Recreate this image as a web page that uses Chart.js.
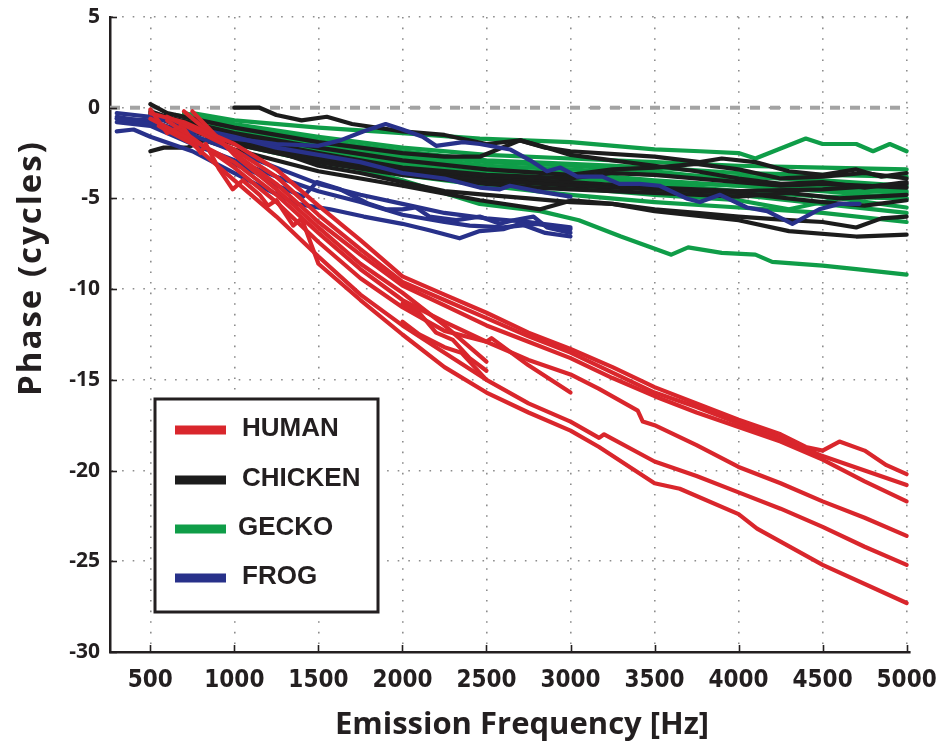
<!DOCTYPE html>
<html>
<head>
<meta charset="utf-8">
<script src="https://cdn.jsdelivr.net/npm/chart.js@4.4.1/dist/chart.umd.min.js"></script>
<style>
  html, body { margin: 0; padding: 0; background: #ffffff; }
  #wrap { width: 942px; height: 749px; position: relative; }
</style>
</head>
<body>
<div id="wrap"><canvas id="c" width="942" height="749"></canvas></div>
<script>
// ---------------- DATA ----------------
const X_TICKS = [500, 1000, 1500, 2000, 2500, 3000, 3500, 4000, 4500, 5000];
const Y_TICKS = [5, 0, -5, -10, -15, -20, -25, -30];
const X_RANGE = [260, 5020];
const Y_RANGE = [-30, 5];
const X_TITLE = 'Emission Frequency [Hz]';
const Y_TITLE = 'Phase (cycles)';
const SPECIES = ['HUMAN', 'CHICKEN', 'GECKO', 'FROG'];
const ZERO_PHASE = 0;

// HUMAN curves: [frequency Hz, phase cycles]
const human1 = [[500,-0.3],[700,-0.8],[1000,-2.0],[1250,-3.4],[1500,-5.4],[1750,-7.3],[2000,-9.3],[2250,-10.3],[2500,-11.3],[2750,-12.4],[3000,-13.3],[3250,-14.3],[3500,-15.4],[3750,-16.3],[4000,-17.2],[4250,-18.0],[4400,-18.7],[4500,-18.9],[4600,-18.4],[4750,-18.9],[4880,-19.7],[5000,-20.2]];
const human2 = [[600,-0.5],[1000,-2.3],[1250,-3.8],[1500,-5.9],[1750,-7.8],[2000,-9.6],[2250,-10.6],[2500,-11.6],[2750,-12.6],[3000,-13.5],[3250,-14.6],[3500,-15.7],[3750,-16.5],[4000,-17.4],[4250,-18.2],[4500,-19.2],[4750,-20.0],[5000,-20.8]];
const human3 = [[700,-0.2],[1000,-2.5],[1250,-4.2],[1500,-6.3],[1750,-8.1],[2000,-9.8],[2250,-10.9],[2500,-12.0],[2750,-12.9],[3000,-13.8],[3250,-14.9],[3500,-15.9],[3750,-16.8],[4000,-17.6],[4250,-18.4],[4500,-19.4],[4750,-20.6],[5000,-21.7]];
const human4 = [[500,-0.6],[1000,-3.0],[1250,-4.8],[1500,-6.9],[1750,-8.9],[2000,-10.6],[2250,-11.8],[2500,-12.9],[2750,-13.9],[3000,-14.7],[3170,-15.5],[3400,-16.7],[3430,-17.3],[3500,-17.5],[3750,-18.6],[4000,-19.8],[4250,-20.7],[4500,-21.7],[4750,-22.6],[5000,-23.6]];
const human5 = [[550,-1.0],[750,-2.0],[1000,-4.0],[1250,-6.0],[1500,-8.2],[1750,-10.3],[2000,-12.0],[2250,-13.5],[2500,-15.0],[2750,-16.3],[3000,-17.3],[3170,-18.2],[3200,-18.0],[3500,-19.5],[3750,-20.3],[4000,-21.2],[4250,-22.1],[4500,-23.1],[4750,-24.2],[5000,-25.2]];
const human6 = [[500,-0.1],[600,-1.4],[690,-1.0],[800,-2.5],[830,-2.0],[910,-3.4],[990,-4.5],[1050,-4.0],[1150,-4.8],[1200,-5.4],[1250,-5.1],[1350,-6.5],[1400,-6.1],[1500,-8.6],[1750,-10.6],[2000,-12.5],[2250,-14.3],[2500,-15.7],[2750,-16.8],[3000,-17.8],[3170,-18.7],[3500,-20.7],[3650,-21.0],[4000,-22.4],[4110,-23.2],[4500,-25.2],[5000,-27.3]];
const human7 = [[750,-0.2],[1000,-2.6],[1250,-4.5],[1500,-6.6],[1750,-8.6],[2000,-10.2],[2250,-12.0],[2500,-14.0]];
const human8 = [[2000,-10.8],[2100,-11.3],[2200,-12.4],[2300,-12.8],[2400,-13.8],[2500,-14.5]];
const human9 = [[2000,-11.8],[2100,-12.5],[2250,-13.2],[2350,-13.5],[2500,-15.0]];
const human10 = [[600,-0.7],[1000,-3.3],[1250,-5.2],[1500,-7.4],[1750,-9.4],[2000,-11.0],[2250,-12.3],[2500,-12.9],[2530,-12.7],[2750,-14.2],[3000,-15.7]];

// CHICKEN curves
const chicken1 = [[1000,0.0],[1150,0.0],[1250,-0.4],[1400,-0.7],[1550,-0.5],[1700,-0.9],[2000,-1.3],[2250,-1.5],[2500,-2.0],[2700,-1.8],[2850,-2.2],[3000,-2.4],[3500,-2.7],[3770,-3.0],[3900,-2.8],[4100,-3.0],[4300,-3.5],[4500,-3.7],[4700,-3.4],[4850,-3.8],[5000,-3.6]];
const chicken2 = [[500,0.2],[600,-0.3],[750,-0.6],[1000,-1.1],[1250,-1.5],[1500,-1.9],[1750,-2.2],[2000,-2.5],[2250,-2.7],[2460,-2.7],[2700,-1.8],[2860,-2.2],[3000,-2.6],[3250,-2.9],[3500,-3.2],[3750,-3.5],[4000,-3.9],[4250,-4.2],[4500,-4.1],[4750,-4.4],[5000,-4.1]];
const chicken3 = [[500,-0.2],[750,-1.0],[1000,-1.6],[1500,-2.5],[2000,-3.3],[2250,-3.5],[2500,-3.7],[3000,-3.9],[3250,-3.6],[3500,-3.7],[4000,-4.1],[4250,-4.3],[4500,-4.2],[5000,-4.4]];
const chicken4 = [[500,-0.4],[750,-1.3],[1000,-2.0],[1500,-3.0],[2000,-3.7],[2500,-4.2],[2800,-4.4],[3000,-4.5],[3500,-4.7],[4000,-4.9],[4300,-4.7],[4600,-5.0],[5000,-4.8]];
const chicken5 = [[500,-2.4],[580,-2.2],[720,-2.2],[840,-1.7],[1000,-1.9],[1250,-2.4],[1500,-3.2],[1750,-3.6],[2000,-4.1],[2250,-4.6],[2500,-4.8],[2750,-5.0],[3000,-5.2],[3250,-5.3],[3500,-5.6],[3750,-5.8],[4000,-6.0],[4300,-6.2],[4500,-6.3],[4700,-6.6],[4850,-6.1],[5000,-6.0]];
const chicken6 = [[500,-0.7],[750,-1.6],[1000,-2.3],[1500,-3.5],[2000,-4.3],[2460,-5.1],[2820,-5.6],[3010,-5.1],[3250,-5.3],[3500,-5.7],[4000,-6.2],[4300,-6.8],[4700,-7.1],[5000,-7.0]];
const chicken7 = [[500,-0.3],[1000,-1.4],[1500,-2.2],[2000,-2.9],[2500,-3.4],[3000,-3.7],[3250,-3.4],[3500,-3.3],[3750,-3.1],[4000,-3.4],[4250,-3.9],[4500,-3.8],[4750,-3.6],[5000,-3.9]];
const chicken8 = [[750,-1.0],[1000,-1.8],[1500,-2.8],[2000,-3.6],[2500,-4.0],[3000,-4.3],[3500,-4.5],[4000,-4.7],[4500,-5.2],[4750,-5.4],[5000,-5.1]];
const chicken9 = [[1000,-1.5],[1500,-2.6],[2000,-3.4],[2500,-3.9],[3000,-4.1],[3500,-4.4],[4000,-4.6],[4500,-4.5],[5000,-4.2]];

// GECKO curves
const gecko1 = [[750,-0.3],[1000,-0.7],[1500,-1.1],[2000,-1.4],[2460,-1.7],[3000,-1.9],[3500,-2.3],[3770,-2.4],[4000,-2.5],[4100,-2.8],[4400,-1.7],[4500,-2.0],[4700,-2.0],[4800,-2.4],[4900,-2.0],[5000,-2.4]];
const gecko2 = [[700,-0.5],[1000,-1.5],[1500,-2.8],[2000,-4.0],[2460,-5.3],[2820,-5.7],[3050,-6.2],[3300,-7.1],[3600,-8.1],[3700,-7.7],[3900,-8.0],[4100,-8.1],[4200,-8.5],[4500,-8.7],[4700,-8.9],[5000,-9.2]];
const gecko3 = [[700,-0.3],[1000,-0.9],[1500,-1.6],[2000,-2.2],[2500,-2.6],[3000,-2.8],[3500,-3.0],[4000,-3.2],[4500,-3.3],[5000,-3.4]];
const gecko4 = [[700,-0.5],[1000,-1.2],[1500,-2.0],[2000,-2.7],[2500,-3.2],[3000,-3.4],[3500,-3.7],[4000,-3.8],[4500,-4.0],[5000,-4.3]];
const gecko5 = [[750,-0.6],[1000,-1.5],[1500,-2.4],[2000,-3.1],[2500,-3.6],[3000,-3.9],[3500,-4.2],[4000,-4.6],[4500,-4.9],[5000,-5.0]];
const gecko6 = [[750,-0.8],[1000,-1.8],[1500,-2.8],[2000,-3.4],[2500,-4.0],[3000,-4.4],[3500,-4.8],[4000,-5.1],[4300,-5.6],[4600,-5.0],[5000,-5.5]];
const gecko7 = [[800,-1.0],[1000,-2.0],[1500,-3.0],[2000,-3.7],[2500,-4.3],[3000,-4.8],[3500,-5.2],[4000,-5.5],[4500,-5.8],[5000,-6.3]];
const gecko8 = [[750,-0.7],[1000,-1.3],[1500,-2.2],[2000,-2.9],[2200,-2.7],[2500,-3.5],[3000,-3.6],[3500,-4.0],[4000,-4.3],[4500,-4.5],[5000,-4.7]];
const gecko9 = [[650,-0.4],[1000,-1.0],[1500,-1.8],[2000,-2.4],[2500,-2.9],[3000,-3.1],[3500,-3.3],[4000,-3.6],[4500,-3.7],[5000,-3.8]];
const gecko10 = [[700,-0.6],[1000,-1.4],[1500,-2.3],[2000,-2.8],[2500,-3.3],[3000,-3.7],[3500,-4.1],[4000,-4.3],[4500,-4.6],[5000,-5.0]];
const gecko11 = [[800,-0.8],[1000,-1.1],[1500,-1.9],[2000,-2.5],[2500,-3.0],[3000,-3.2],[3500,-3.5],[4000,-4.0],[4500,-4.4],[5000,-4.6]];
const gecko12 = [[750,-0.9],[1000,-1.7],[1500,-2.6],[2000,-3.2],[2500,-3.8],[3000,-4.1],[3500,-4.5],[4000,-4.8],[4500,-5.3],[5000,-5.8]];

// FROG curves
const frog1 = [[300,-0.6],[500,-0.9],[750,-1.3],[1000,-1.7],[1250,-2.0],[1500,-2.1],[1630,-1.8],[1770,-1.3],[1900,-0.9],[2000,-1.2],[2120,-1.6],[2200,-2.1],[2360,-1.9],[2460,-2.0],[2640,-2.3],[2760,-2.9],[2860,-3.5],[2940,-3.3],[3040,-3.8],[3190,-3.8],[3290,-4.2],[3410,-4.2],[3530,-4.3],[3690,-5.0],[3770,-5.2],[3890,-4.8],[4050,-5.5],[4170,-5.7],[4320,-6.4],[4480,-5.6],[4600,-5.3],[4720,-5.3]];
const frog2 = [[300,-0.3],[500,-0.5],[750,-1.1],[1000,-1.6],[1250,-2.2],[1500,-2.6],[1750,-3.0],[2000,-3.6],[2250,-3.9],[2460,-4.4],[2580,-4.5],[2640,-4.3],[2800,-4.6],[3000,-4.9]];
const frog3 = [[300,-0.5],[500,-0.8],[750,-1.8],[1000,-3.1],[1130,-3.6],[1230,-4.2],[1410,-4.9],[1490,-4.1],[1630,-4.5],[1800,-5.3],[1900,-5.6],[2000,-5.6],[2080,-5.5],[2160,-6.0],[2320,-6.2],[2460,-6.0],[2580,-6.4],[2660,-6.2],[2780,-6.0],[2860,-6.6],[3000,-6.9]];
const frog4 = [[300,-1.3],[400,-1.2],[500,-1.6],[750,-2.4],[1000,-3.6],[1170,-4.4],[1370,-5.3],[1570,-5.6],[1770,-6.0],[2000,-6.4],[2160,-6.75],[2340,-7.2],[2460,-6.8],[2600,-6.7],[2700,-6.4],[2850,-6.9],[3000,-7.1]];
const frog5 = [[300,-0.8],[500,-1.0],[750,-2.0],[1000,-2.9],[1250,-3.8],[1500,-4.6],[1750,-5.2],[2000,-5.9],[2250,-6.3],[2400,-6.5],[2600,-6.6],[2800,-6.4],[3000,-6.7]];
const frog6 = [[300,-0.6],[500,-0.7],[750,-1.5],[1000,-2.4],[1250,-3.3],[1500,-4.2],[1750,-4.8],[2000,-5.3],[2250,-5.8],[2500,-6.1],[2750,-6.3],[3000,-6.6]];

const HUMAN = [human1, human2, human3, human4, human5, human6, human7, human8, human9, human10];
const CHICKEN = [chicken1, chicken2, chicken3, chicken4, chicken5, chicken6, chicken7, chicken8, chicken9];
const GECKO = [gecko1, gecko2, gecko3, gecko4, gecko5, gecko6, gecko7, gecko8, gecko9, gecko10, gecko11, gecko12];
const FROG = [frog1, frog2, frog3, frog4, frog5, frog6];

// ---------------- STYLE ----------------
const COLORS = { HUMAN: '#d9262c', CHICKEN: '#1c1c1c', GECKO: '#0f9d48', FROG: '#28318a' };
const INK = '#231f20';

// drawing order: first dataset is painted on top in Chart.js
const GROUPS = [['HUMAN', HUMAN], ['FROG', FROG], ['CHICKEN', CHICKEN], ['GECKO', GECKO]];

const datasets = [];
GROUPS.forEach(([name, curves]) => {
  curves.forEach((c, i) => {
    datasets.push({
      label: name + ' ' + (i + 1),
      data: c.map(p => ({ x: p[0], y: p[1] })),
      borderColor: COLORS[name],
      borderWidth: 4.2,
      pointRadius: 0,
      tension: 0,
      fill: false,
      borderJoinStyle: 'round',
      borderCapStyle: 'round'
    });
  });
});
datasets.push({
  label: 'zero',
  data: [{ x: X_RANGE[0], y: ZERO_PHASE }, { x: X_RANGE[1], y: ZERO_PHASE }],
  borderColor: '#a3a3a3',
  borderWidth: 4,
  borderDash: [10, 10],
  pointRadius: 0,
  fill: false
});

const overlay = {
  id: 'overlay',
  afterDraw(chart) {
    const { ctx, chartArea: a, scales: { x, y } } = chart;
    ctx.save();
    // inward tick marks
    ctx.strokeStyle = INK;
    ctx.lineWidth = 1.6;
    X_TICKS.forEach(v => {
      const px = Math.round(x.getPixelForValue(v)) + 0.5;
      ctx.beginPath(); ctx.moveTo(px, a.bottom); ctx.lineTo(px, a.bottom - 7); ctx.stroke();
    });
    Y_TICKS.forEach(v => {
      const py = Math.round(y.getPixelForValue(v)) + 0.5;
      ctx.beginPath(); ctx.moveTo(a.left, py); ctx.lineTo(a.left + 7, py); ctx.stroke();
    });
    // axis titles
    ctx.fillStyle = INK;
    ctx.font = '700 31px "Open Sans"';
    ctx.textAlign = 'center';
    ctx.textBaseline = 'alphabetic';
    ctx.fillText(X_TITLE, 522, 734);
    ctx.save();
    ctx.font = '700 33px "Open Sans"';
    if ('letterSpacing' in ctx) ctx.letterSpacing = '2px';
    ctx.translate(41, 268);
    ctx.rotate(-Math.PI / 2);
    ctx.fillText(Y_TITLE, 0, 0);
    ctx.restore();
    // legend box
    const bx = 155, by = 399, bw = 223, bh = 213;
    ctx.fillStyle = '#ffffff';
    ctx.fillRect(bx, by, bw, bh);
    ctx.strokeStyle = INK;
    ctx.lineWidth = 3;
    ctx.strokeRect(bx, by, bw, bh);
    const rows = [430, 480, 529, 578];
    ctx.font = '700 26px "Liberation Sans"';
    ctx.textAlign = 'left';
    ctx.textBaseline = 'middle';
    SPECIES.forEach((s, i) => {
      ctx.strokeStyle = COLORS[s];
      ctx.lineWidth = 9;
      ctx.lineCap = 'butt';
      ctx.beginPath(); ctx.moveTo(175, rows[i]); ctx.lineTo(226, rows[i]); ctx.stroke();
      ctx.fillStyle = INK;
      ctx.fillText(s, s === 'GECKO' ? 238 : 242, rows[i] - 1);
    });
    ctx.restore();
  }
};

new Chart(document.getElementById('c'), {
  type: 'line',
  data: { datasets },
  options: {
    responsive: false,
    animation: false,
    events: [],
    layout: { padding: { left: 0, top: 17, right: 32, bottom: 0 } },
    plugins: { legend: { display: false }, tooltip: { enabled: false } },
    scales: {
      x: {
        type: 'linear',
        min: X_RANGE[0],
        max: X_RANGE[1],
        afterBuildTicks: s => { s.ticks = X_TICKS.map(v => ({ value: v })); },
        afterFit: s => { s.height = 97; s.paddingLeft = 0; s.paddingRight = 0; },
        grid: { color: '#8c8c8c', lineWidth: 1.6, drawTicks: false },
        border: { display: true, color: INK, width: 2.5, dash: [1.6, 9] },
        ticks: {
          padding: 14, autoSkip: false, maxRotation: 0, minRotation: 0, color: INK,
          font: { family: '"DejaVu Sans Condensed", "DejaVu Sans"', weight: 'bold', size: 24 },
          callback: v => String(v)
        }
      },
      y: {
        type: 'linear',
        min: Y_RANGE[0],
        max: Y_RANGE[1],
        afterBuildTicks: s => { s.ticks = Y_TICKS.map(v => ({ value: v })); },
        afterFit: s => { s.width = 110; s.paddingTop = 0; s.paddingBottom = 0; },
        grid: { color: '#8c8c8c', lineWidth: 1.6, drawTicks: false },
        border: { display: true, color: INK, width: 2.5, dash: [1.6, 9] },
        ticks: {
          padding: 10, color: INK,
          font: { family: '"Open Sans"', weight: 'bold', size: 21 },
          callback: v => String(v)
        }
      }
    }
  },
  plugins: [overlay]
});
</script>
</body>
</html>
